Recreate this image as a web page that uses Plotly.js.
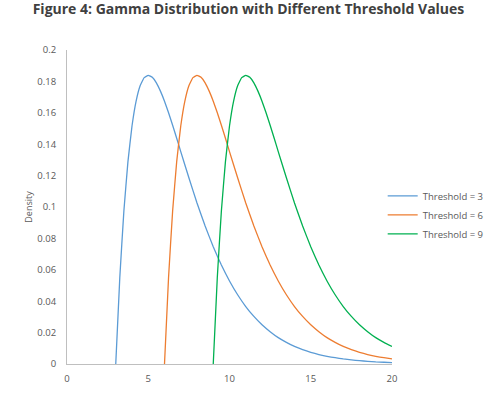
<!DOCTYPE html>
<html>
<head>
<meta charset="utf-8">
<script src="https://cdn.plot.ly/plotly-3.0.1.min.js"></script>
<style>html,body{margin:0;padding:0;background:#fff;}#chart{width:497px;height:398px;}</style>
</head>
<body>
<div id="chart"></div>
<script>
// Distance past the threshold (x - threshold) and density
var offsets = [0, 0.25, 0.5, 0.75, 1, 1.25, 1.5, 1.75, 2, 2.25, 2.5, 2.75, 3, 3.25, 3.5, 3.75, 4, 4.5, 5, 5.5, 6, 6.5, 7, 7.5, 8, 8.5, 9, 9.5, 10, 10.5, 11, 11.5, 12, 12.5, 13, 13.5, 14, 14.5, 15, 15.5, 16, 16.5, 17];
var density = [0, 0.0552, 0.0974, 0.1289, 0.1516, 0.1673, 0.1772, 0.1824, 0.1839, 0.1826, 0.1791, 0.1738, 0.1674, 0.1600, 0.1521, 0.1438, 0.1353, 0.1186, 0.1026, 0.0879, 0.0747, 0.0630, 0.0529, 0.0441, 0.0366, 0.0303, 0.0250, 0.0206, 0.0168, 0.0138, 0.0112, 0.0091, 0.0074, 0.0060, 0.0049, 0.0040, 0.0032, 0.0026, 0.0021, 0.0017, 0.0013, 0.0011, 0.0009];
var thresholds = [3, 6, 9];
var seriesNames = ["Threshold = 3", "Threshold = 6", "Threshold = 9"];
var seriesColors = ["#5B9BD5", "#ED7D31", "#00B050"];
var xTicks = [0, 5, 10, 15, 20];
var yTicks = [0, 0.02, 0.04, 0.06, 0.08, 0.1, 0.12, 0.14, 0.16, 0.18, 0.2];
var yTickText = ["0", "0.02", "0.04", "0.06", "0.08", "0.1", "0.12", "0.14", "0.16", "0.18", "0.2"];
var xMax = 20;

var traces = thresholds.map(function (th, i) {
  var xs = [], ys = [];
  for (var k = 0; k < offsets.length; k++) {
    if (th + offsets[k] <= xMax + 1e-9) { xs.push(th + offsets[k]); ys.push(density[k]); }
  }
  return {
    type: "scatter", mode: "lines", name: seriesNames[i], x: xs, y: ys,
    line: {color: seriesColors[i], width: 1.3, shape: "spline", smoothing: 0.3}
  };
});

var tickFont = {family: "Open Sans, sans-serif", size: 9.5, color: "#595959"};
var layout = {
  width: 497, height: 398,
  margin: {l: 67, r: 105, t: 50, b: 34, autoexpand: false},
  paper_bgcolor: "#fff", plot_bgcolor: "#fff",
  title: {text: "<b>Figure 4: Gamma Distribution with Different Threshold Values</b>",
    font: {family: "Open Sans, sans-serif", size: 14, color: "#404040"},
    x: 0.5, xref: "container", xanchor: "center", y: 0.976, yref: "container", yanchor: "middle"},
  xaxis: {range: [0, 20], tickvals: xTicks, ticktext: xTicks.map(String), showgrid: false, zeroline: false,
    showline: true, linecolor: "#BFBFBF", linewidth: 1, ticks: "", tickfont: tickFont, ticklabelstandoff: 6},
  yaxis: {range: [0, 0.2], tickvals: yTicks, ticktext: yTickText, showgrid: false, zeroline: false,
    showline: true, linecolor: "#BFBFBF", linewidth: 1, ticks: "", tickfont: tickFont, ticklabelstandoff: 8,
    title: {text: "Density", font: {family: "Open Sans, sans-serif", size: 9, color: "#595959"}, standoff: 3}},
  legend: {xref: "container", yref: "container", x: 0.77, xanchor: "left", y: 0.46, yanchor: "middle", itemwidth: 30,
    font: {family: "Open Sans, sans-serif", size: 9.5, color: "#595959"}, tracegroupgap: 0, bgcolor: "rgba(0,0,0,0)"},
  showlegend: true
};
Plotly.newPlot("chart", traces, layout, {displayModeBar: false, staticPlot: true});
</script>
</body>
</html>
